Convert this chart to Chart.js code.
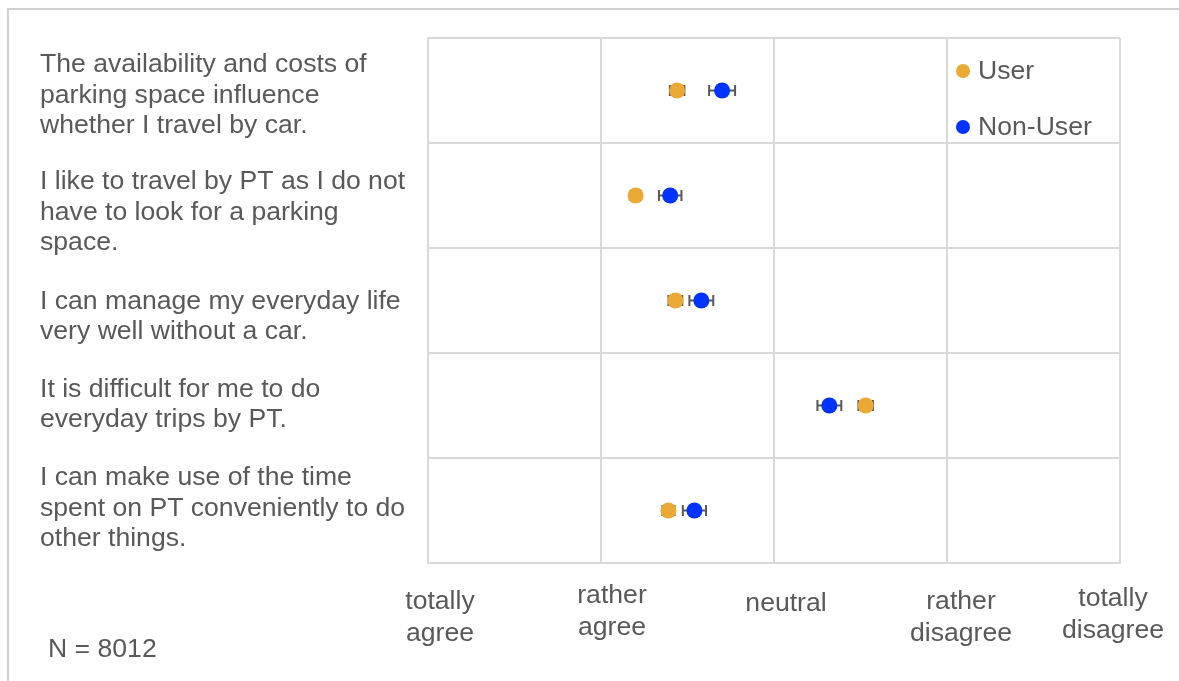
<!DOCTYPE html>
<html>
<head>
<meta charset="utf-8">
<title>Attitudes towards car and PT</title>
<script src="https://cdn.jsdelivr.net/npm/chart.js@4/dist/chart.umd.min.js"></script>
<style>
  html, body { margin: 0; padding: 0; background: #fff; }
  #wrap { width: 1179px; height: 681px; }
</style>
</head>
<body>
<div id="wrap"><canvas id="chart" width="1179" height="681"></canvas></div>
<script>
// statements (one row each, top to bottom)
const statements = [
    ['The availability and costs of', 'parking space influence', 'whether I travel by car.'],
    ['I like to travel by PT as I do not', 'have to look for a parking', 'space.'],
    ['I can manage my everyday life', 'very well without a car.'],
    ['It is difficult for me to do', 'everyday trips by PT.'],
    ['I can make use of the time', 'spent on PT conveniently to do', 'other things.']
];

// answer scale 1..5
const scaleLabels = [
    ['totally', 'agree'],
    ['rather', 'agree'],
    ['neutral'],
    ['rather', 'disagree'],
    ['totally', 'disagree']
];

// mean answers and error margins
const userMean = [2.44, 2.20, 2.43, 3.53, 2.39];
const userErr = [0.042, 0.03, 0.04, 0.042, 0.035];
const nonUserMean = [2.70, 2.40, 2.58, 3.32, 2.54];
const nonUserErr = [0.075, 0.065, 0.069, 0.069, 0.067];

const sampleNote = 'N = 8012';

const textColor = '#595959';
const gridColor = '#d9d9d9';
const fontFamily = '"Liberation Sans", Arial, sans-serif';
const fontSize = 26.6;
const lineH = 30.6;

// the labels sit in free text boxes in the original, so nudge them a bit
const rowLabelShift = [5, 17, 16, -1, -2];
const colLabelShift = [[12, 1], [11, -5], [12, 3], [14, 1], [-7, -2]];

// outer frame, note, labels and error bars
const extras = {
    id: 'extras',
    beforeDraw(chart) {
        const ctx = chart.ctx;
        ctx.save();
        ctx.strokeStyle = '#d0d0d0';
        ctx.lineWidth = 2;
        ctx.beginPath();
        ctx.moveTo(1179, 9);
        ctx.lineTo(8, 9);
        ctx.lineTo(8, 681);
        ctx.stroke();
        ctx.fillStyle = textColor;
        ctx.font = fontSize + 'px ' + fontFamily;
        ctx.textBaseline = 'middle';
        ctx.fillText(sampleNote, 48, 650);

        // row labels
        const ys = chart.scales.y;
        ctx.textAlign = 'left';
        statements.forEach((lines, i) => {
            const cy = ys.getPixelForTick(i) + rowLabelShift[i];
            lines.forEach((t, k) => {
                ctx.fillText(t, ys.left, cy + (k - (lines.length - 1) / 2) * lineH);
            });
        });

        // answer scale labels
        const xs = chart.scales.x;
        ctx.textAlign = 'center';
        scaleLabels.forEach((lines, i) => {
            const cx = xs.getPixelForValue(i + 1) + colLabelShift[i][0];
            const top = xs.top + 38 + colLabelShift[i][1];
            lines.forEach((t, k) => {
                ctx.fillText(t, cx, top + k * 31.5);
            });
        });
        ctx.restore();
    },
    beforeDatasetsDraw(chart) {
        const ctx = chart.ctx;
        const xs = chart.scales.x;
        ctx.save();
        ctx.strokeStyle = textColor;
        ctx.lineWidth = 2;
        chart.data.datasets.forEach((ds, i) => {
            const meta = chart.getDatasetMeta(i);
            meta.data.forEach((pt, j) => {
                const lo = xs.getPixelForValue(ds.data[j] - ds.errors[j]);
                const hi = xs.getPixelForValue(ds.data[j] + ds.errors[j]);
                const y = pt.y;
                ctx.beginPath();
                ctx.moveTo(lo, y); ctx.lineTo(hi, y);
                ctx.moveTo(lo, y - 5.5); ctx.lineTo(lo, y + 5.5);
                ctx.moveTo(hi, y - 5.5); ctx.lineTo(hi, y + 5.5);
                ctx.stroke();
            });
        });
        ctx.restore();
    },
    afterDraw(chart) {
        // legend inside the plot, top right
        const ctx = chart.ctx;
        const area = chart.chartArea;
        ctx.save();
        ctx.font = fontSize + 'px ' + fontFamily;
        ctx.textBaseline = 'middle';
        chart.data.datasets.forEach((ds, i) => {
            const x = area.right - 157;
            const y = area.top + 33 + i * 56;
            ctx.fillStyle = ds.backgroundColor;
            ctx.beginPath();
            ctx.arc(x, y, 7, 0, Math.PI * 2);
            ctx.fill();
            ctx.fillStyle = textColor;
            ctx.fillText(ds.label, x + 15, y + 1);
        });
        ctx.restore();
    }
};

new Chart(document.getElementById('chart'), {
    type: 'line',
    data: {
        labels: statements,
        datasets: [
            {
                label: 'User',
                data: userMean,
                errors: userErr,
                backgroundColor: '#e9a934',
                borderColor: '#e9a934',
                borderWidth: 0,
                pointRadius: 8,
                showLine: false
            },
            {
                label: 'Non-User',
                data: nonUserMean,
                errors: nonUserErr,
                backgroundColor: '#0033ff',
                borderColor: '#0033ff',
                borderWidth: 0,
                pointRadius: 8,
                showLine: false
            }
        ]
    },
    options: {
        indexAxis: 'y',
        responsive: false,
        devicePixelRatio: 1,
        animation: false,
        layout: { padding: { left: 40, top: 38, right: 59, bottom: 0 } },
        plugins: {
            legend: { display: false },
            tooltip: { enabled: false }
        },
        scales: {
            x: {
                type: 'linear',
                min: 1,
                max: 5,
                ticks: { stepSize: 1, display: false },
                grid: { color: gridColor, lineWidth: 2, drawTicks: false },
                border: { color: gridColor, width: 2 },
                afterFit(scale) {
                    scale.height = 118;
                    scale.paddingLeft = 0;
                    scale.paddingRight = 0;
                }
            },
            y: {
                type: 'category',
                offset: true,
                ticks: { display: false },
                grid: { color: gridColor, lineWidth: 2, offset: true, drawTicks: false },
                border: { color: gridColor, width: 2 },
                afterFit(scale) {
                    scale.width = 388;
                    scale.paddingTop = 0;
                    scale.paddingBottom = 0;
                }
            }
        }
    },
    plugins: [extras]
});
</script>
</body>
</html>
